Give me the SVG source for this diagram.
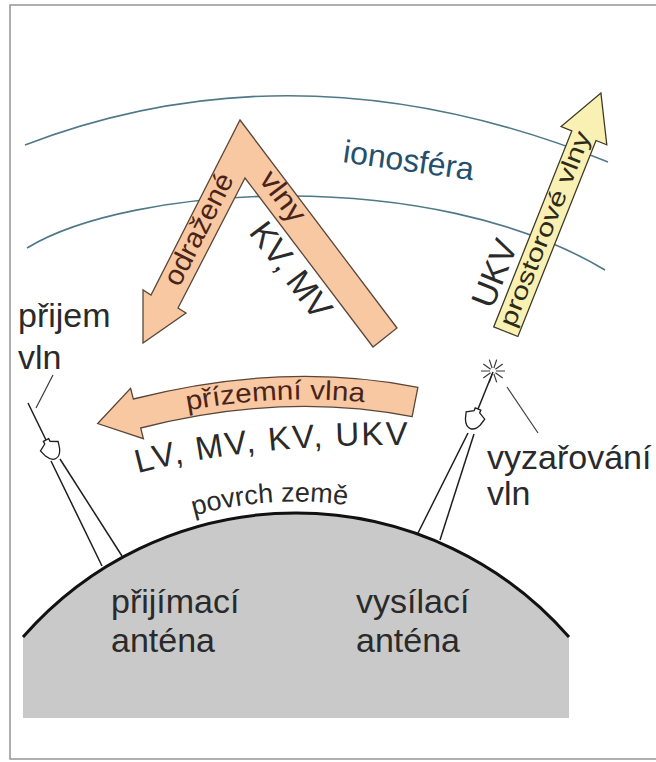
<svg xmlns="http://www.w3.org/2000/svg" width="656" height="762" viewBox="0 0 656 762">
  <style>
    .lbl { font-family: "Liberation Sans", Arial, sans-serif; fill: #2a2a2a; }
    .wave { fill: #f8c8a2; stroke: #5a4638; stroke-width: 1.3; stroke-linejoin: miter; }
    .space { fill: #f9f0b3; stroke: #3e3a26; stroke-width: 1.3; }
    .intext { font-family: "Liberation Sans", Arial, sans-serif; fill: #4a2418; }
    .arc { fill: none; stroke: #4f7888; stroke-width: 1.6; }
    .wire { fill: none; stroke: #1e1e1e; stroke-width: 1.5; }
    .lead { fill: none; stroke: #3a3a3a; stroke-width: 1.2; }
  </style>
  <defs>
    <!-- antenna pod, drawn with its axis along +y -->
    <path id="pod" d="M -3,0 H 3 V 3 L 10,7 L 8,14 Q 5,21 0,21 Q -5,21 -8,14 L -10,7 L -3,3 Z" fill="#fff" stroke="#1e1e1e" stroke-width="1.3"/>
    <path id="groundBase" d="M 135,474 Q 250,443 420,445"/>
    <path id="groundWaveBase" d="M 137,421.5 Q 284,384 415,410"/>
    <path id="surfaceBase" d="M 150,531.1 A 375 375 0 0 1 442,531.1"/>
  </defs>

  <rect width="656" height="762" fill="#ffffff"/>
  <!-- frame -->
  <rect x="10" y="5" width="660" height="754" fill="none" stroke="#9c9c9c" stroke-width="1.6"/>

  <!-- ionosphere layer -->
  <g id="ionosphere">
    <path class="arc" d="M 25,145 Q 303,38.5 608,162"/>
    <path class="arc" d="M 27,248 C 130,185 430,165 605,270"/>
    <text class="lbl" x="342" y="162" font-size="32" style="fill:#24506e" transform="rotate(8 342 162)">ionosféra</text>
  </g>

  <!-- earth -->
  <g id="earth">
    <path d="M 23,637 A 362.5 362.5 0 0 1 569,637 L 569,718 L 23,718 Z" fill="#c9c9c9"/>
    <path d="M 23,637 A 362.5 362.5 0 0 1 569,637" fill="none" stroke="#111" stroke-width="3"/>
    <text class="lbl" font-size="27"><textPath href="#surfaceBase" startOffset="41.3%" text-anchor="middle">povrch země</textPath></text>
    <text class="lbl" x="111" y="613" font-size="34">přijímací</text>
    <text class="lbl" x="111" y="652" font-size="34">anténa</text>
    <text class="lbl" x="356" y="613" font-size="34">vysílací</text>
    <text class="lbl" x="356" y="652" font-size="34">anténa</text>
  </g>

  <!-- receiving antenna -->
  <g id="receiver">
    <line class="wire" x1="28" y1="403" x2="46" y2="440"/>
    <use href="#pod" transform="translate(46 440) rotate(-28)"/>
    <line class="wire" x1="51" y1="461" x2="102" y2="566"/>
    <line class="wire" x1="60" y1="459" x2="122" y2="556"/>
    <line class="lead" x1="53" y1="375" x2="36" y2="408"/>
    <text class="lbl" x="18" y="327" font-size="34">přijem</text>
    <text class="lbl" x="18" y="369" font-size="34">vln</text>
  </g>

  <!-- transmitting antenna -->
  <g id="transmitter">
    <path class="lead" stroke-width="1.1" d="M496,371 H505 M495.4,372.8 L502.7,378.1 M493.9,373.9 L496.7,382.4 M492.1,373.9 L489.3,382.4 M490.6,372.8 L483.3,378.1 M490,371 H481 M490.6,369.2 L483.3,363.9 M492.1,368.1 L489.3,359.6 M493.9,368.1 L496.7,359.6 M495.4,369.2 L502.7,363.9"/>
    <line class="wire" x1="493" y1="372" x2="478" y2="409"/>
    <use href="#pod" transform="translate(478 409) rotate(21.5)"/>
    <line class="wire" x1="468" y1="433" x2="418" y2="533"/>
    <line class="wire" x1="474" y1="434" x2="440" y2="540"/>
    <line class="lead" x1="507" y1="387" x2="538" y2="433"/>
    <text class="lbl" x="487" y="469" font-size="34">vyzařování</text>
    <text class="lbl" x="487" y="505" font-size="34">vln</text>
  </g>

  <!-- connectors: wave paths -->
  <g id="waves">
    <!-- reflected sky wave -->
    <g id="skywave">
      <path class="wave" d="M 240,120 L 397,328 L 373,347 L 245,178 L 178,308 L 186,313 L 143,343 L 143,290 L 151,295 Z"/>
      <text class="intext" font-size="28" textLength="122" lengthAdjust="spacingAndGlyphs" transform="translate(179.3 287.8) rotate(-63.2)">odražené</text>
      <text class="intext" font-size="29" textLength="57" lengthAdjust="spacingAndGlyphs" transform="translate(258.2 179.6) rotate(53)">vlny</text>
      <text class="lbl" font-size="34" transform="translate(248 232.4) rotate(53)">KV, MV</text>
    </g>
    <!-- space wave -->
    <g id="spacewave">
      <path class="space" d="M 493.7,326.9 L 517.9,336.5 L 596,140.5 L 606.8,144.8 L 600.9,93 L 561.1,126.6 L 571.8,130.9 Z"/>
      <text class="intext" style="fill:#2e2a18" font-size="24" textLength="208" lengthAdjust="spacingAndGlyphs" transform="translate(513.9 328.4) rotate(-68.3)">prostorové vlny</text>
      <text class="lbl" font-size="34" transform="translate(492.2 310.1) rotate(-68.3)">UKV</text>
    </g>
    <!-- ground wave -->
    <g id="groundwave">
      <path class="wave" d="M 417.9,387.3 Q 283.6,360.6 133.3,399 L 130.6,388.3 L 97.7,423.5 L 143.4,438.7 L 140.7,428 Q 284.4,391.4 412.1,416.7 Z"/>
      <text class="intext" font-size="27"><textPath href="#groundWaveBase" startOffset="50%" text-anchor="middle" textLength="178" lengthAdjust="spacingAndGlyphs">přízemní vlna</textPath></text>
      <text class="lbl" font-size="33"><textPath href="#groundBase" startOffset="3" textLength="272" lengthAdjust="spacing">LV, MV, KV, UKV</textPath></text>
    </g>
  </g>
</svg>
